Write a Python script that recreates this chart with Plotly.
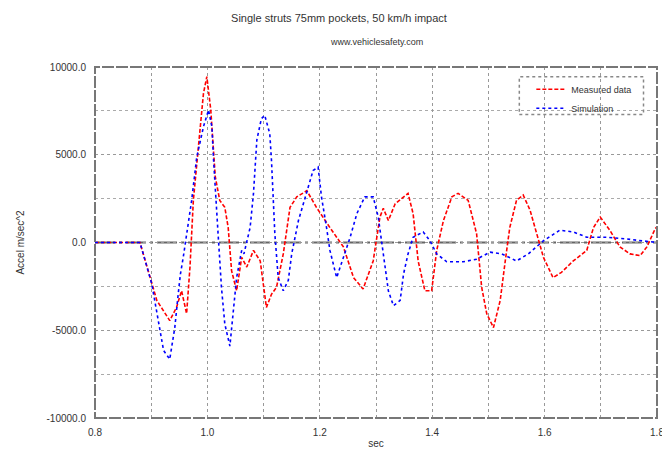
import plotly.graph_objects as go

# ---- data ----
red_t = [0.80, 0.85, 0.880, 0.910, 0.933, 0.945, 0.954, 0.963, 0.969, 0.975, 0.984, 0.993, 0.999,
         1.006, 1.014, 1.022, 1.031, 1.037, 1.043, 1.052, 1.061, 1.070, 1.082, 1.094, 1.105,
         1.114, 1.123, 1.135, 1.147, 1.159, 1.177, 1.194, 1.218, 1.242, 1.260, 1.277, 1.295,
         1.307, 1.313, 1.322, 1.334, 1.357, 1.366, 1.375, 1.387, 1.399, 1.408, 1.420, 1.435,
         1.446, 1.464, 1.479, 1.488, 1.497, 1.509, 1.521, 1.530, 1.538, 1.550, 1.562, 1.574,
         1.586, 1.598, 1.615, 1.630, 1.651, 1.675, 1.687, 1.699, 1.716, 1.734, 1.752, 1.770,
         1.782, 1.797, 1.80]
red_v = [0, 0, 0, -3300, -4450, -3700, -2750, -4050, -1400, 2400, 5650, 8500, 9450,
         7550, 3750, 2400, 2000, 850, -1600, -2750, -850, -1400, -450, -1050, -3700,
         -2950, -2550, -650, 2000, 2600, 2950, 2000, 850, -250, -2000, -2650, -1050,
         1450, 1950, 1250, 2200, 2800, 1650, -1050, -2750, -2750, -450, 1250, 2600,
         2800, 2400, 500, -2550, -4050, -4850, -3300, -1050, 850, 2400, 2700, 1850,
         500, -850, -2000, -1700, -1050, -450, 850, 1450, 700, -250, -650, -750,
         -250, 800, 900]

blue_t = [0.80, 0.85, 0.880, 0.901, 0.910, 0.922, 0.933, 0.942, 0.948, 0.952, 0.957, 0.963, 0.972,
          0.981, 0.993, 1.002, 1.008, 1.011, 1.015, 1.019, 1.025, 1.031, 1.040, 1.046, 1.052,
          1.061, 1.065, 1.076, 1.082, 1.088, 1.096, 1.102, 1.111, 1.114, 1.117, 1.120, 1.126,
          1.135, 1.144, 1.150, 1.162, 1.177, 1.188, 1.197, 1.203, 1.212, 1.218, 1.230, 1.242,
          1.254, 1.266, 1.280, 1.295, 1.304, 1.313, 1.322, 1.331, 1.343, 1.349, 1.357, 1.366,
          1.384, 1.396, 1.408, 1.426, 1.455, 1.479, 1.503, 1.524, 1.550, 1.571, 1.598, 1.627,
          1.651, 1.675, 1.710, 1.746, 1.776, 1.797, 1.80]
blue_v = [0, 0, 0, -2350, -4050, -6150, -6650, -4850, -2950, -1800, -850, 500, 2400,
          4850, 6600, 7550, 6600, 4700, 2400, 500, -2550, -4650, -5900, -4050, -2000,
          -450, -650, 850, 2800, 5850, 7050, 7250, 6200, 4700, 2400, 500, -2000,
          -2750, -2150, -650, 1250, 2950, 4100, 4300, 2600, 850, -450, -2000, -850,
          300, 1650, 2600, 2600, 1450, -650, -2750, -3600, -3300, -1800, -650, 300,
          600, 100, -650, -1100, -1100, -950, -550, -650, -1050, -650, 100, 700,
          600, 300, 300, 200, 100, 0, 0]

red_name = "Measured data"
blue_name = "Simulation"
x_ticks = [0.8, 1.0, 1.2, 1.4, 1.6, 1.8]
x_tick_text = ["0.8", "1.0", "1.2", "1.4", "1.6", "1.8"]
y_ticks = [-10000, -5000, 0, 5000, 10000]
y_tick_text = ["-10000.0", "-5000.0", "0.0", "5000.0", "10000.0"]

fig = go.Figure()
fig.add_trace(go.Scatter(x=red_t, y=red_v, mode="lines", name=red_name,
                         line=dict(color="#ff0000", width=1.6, dash="4px,2px")))
fig.add_trace(go.Scatter(x=blue_t, y=blue_v, mode="lines", name=blue_name,
                         line=dict(color="#0000ff", width=1.6, dash="dot")))

# zero line (dash-dot)
fig.add_shape(type="line", xref="paper", x0=0, x1=1, yref="y", y0=0, y1=0,
              line=dict(color="#666666", width=2, dash="20px,4px,3px,4px"), layer="below")
# dashed frame
fig.add_shape(type="rect", xref="paper", yref="paper", x0=0, x1=1, y0=0, y1=1,
              line=dict(color="#777777", width=2, dash="12px,2px"))
# dotted legend box
fig.add_shape(type="rect", xref="paper", yref="paper", x0=0.755, x1=0.976, y0=0.865, y1=0.972,
              line=dict(color="#888888", width=1.5, dash="dot"))

fig.add_annotation(text="www.vehiclesafety.com", xref="paper", yref="paper",
                   x=0.5, y=1.071, xanchor="center", yanchor="middle", showarrow=False,
                   font=dict(size=9, color="#333333"))

fig.update_layout(
    width=662, height=454,
    paper_bgcolor="white", plot_bgcolor="white",
    margin=dict(l=87, r=13, t=59, b=44, autoexpand=False),
    font=dict(family="Liberation Sans, Arial, sans-serif", size=10, color="#333333"),
    title=dict(text="Single struts 75mm pockets, 50 km/h impact",
               x=0.5, xanchor="center", y=0.978, yanchor="middle",
               font=dict(size=11, color="#333333")),
    showlegend=True,
    legend=dict(x=0.965, xanchor="right", y=0.978, yanchor="top",
                bgcolor="rgba(0,0,0,0)", borderwidth=0,
                font=dict(size=9, color="#333333"), tracegroupgap=0, itemwidth=30),
    xaxis=dict(range=[0.8, 1.8], tickvals=x_ticks, ticktext=x_tick_text,
               showgrid=True, gridcolor="#999999", griddash="dot", gridwidth=1,
               minor=dict(dtick=0.1, showgrid=True, gridcolor="#999999", griddash="dot"),
               zeroline=False, showline=False, ticks="outside", ticklen=5, tickcolor="white",
               automargin=False,
               title=dict(text="sec", font=dict(size=10), standoff=2)),
    yaxis=dict(range=[-10000, 10000], tickvals=y_ticks, ticktext=y_tick_text,
               showgrid=True, gridcolor="#999999", griddash="dot", gridwidth=1,
               minor=dict(dtick=2500, showgrid=True, gridcolor="#aaaaaa", griddash="dot"),
               zeroline=False, showline=False, ticks="outside", ticklen=6, tickcolor="white",
               automargin=False,
               title=dict(text="Accel m/sec^2", font=dict(size=10), standoff=20)),
)

fig.write_html("out.html")
